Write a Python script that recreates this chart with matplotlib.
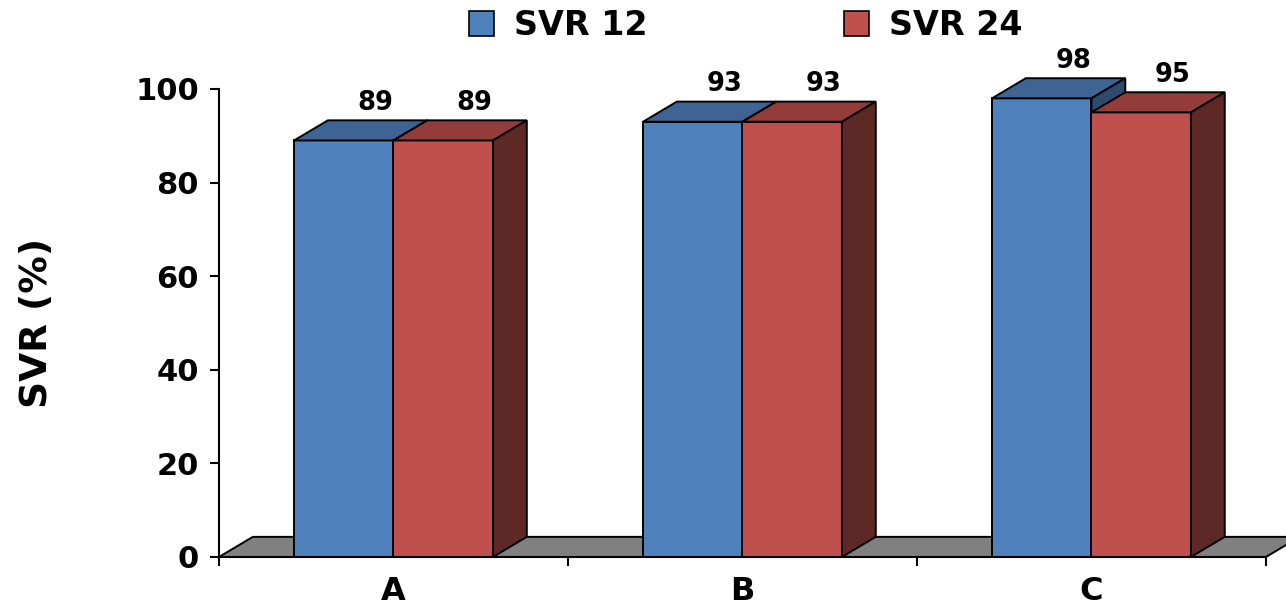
import matplotlib
matplotlib.use("Agg")
import matplotlib.pyplot as plt
from matplotlib.patches import Polygon, Patch

plt.rcParams['font.family'] = ['DejaVu Sans']
plt.rcParams['font.weight'] = 'bold'

groups = ['A', 'B', 'C']
series = ['SVR 12', 'SVR 24']
values = {
    'SVR 12': [89, 93, 98],
    'SVR 24': [89, 93, 95],
}
yticks = [0, 20, 40, 60, 80, 100]

front = {'SVR 12': '#4F81BD', 'SVR 24': '#C0504D'}
top = {'SVR 12': '#3D6493', 'SVR 24': '#943C3A'}
side = {'SVR 12': '#2E4A6D', 'SVR 24': '#5E2826'}

width = 0.285
dx, dy = 0.097, 4.3   # depth offset in data units
lw = 1.4

fig = plt.figure(figsize=(12.86, 6.12), dpi=100)
ax = fig.add_axes([0.1703, 0.0899, 0.8141, 0.7647])
ax.set_xlim(-0.5, 2.5)
ax.set_ylim(0, 100)

# grey floor
floor = Polygon([(-0.5, 0), (2.5, 0), (2.5 + dx, dy), (-0.5 + dx, dy)],
                closed=True, facecolor='#808080', edgecolor='black',
                linewidth=lw, zorder=1, clip_on=False)
ax.add_patch(floor)

z = 2
for i, g in enumerate(groups):
    for j, s in enumerate(series):
        v = values[s][i]
        x0 = i - width if j == 0 else i
        x1 = x0 + width
        ax.bar(x0, v, width=width, align='edge', color=front[s],
               edgecolor='black', linewidth=lw, zorder=z)
        ax.add_patch(Polygon([(x0, v), (x1, v), (x1 + dx, v + dy), (x0 + dx, v + dy)],
                             closed=True, facecolor=top[s], edgecolor='black',
                             linewidth=lw, zorder=z + 1, clip_on=False))
        ax.add_patch(Polygon([(x1, 0), (x1 + dx, dy), (x1 + dx, v + dy), (x1, v)],
                             closed=True, facecolor=side[s], edgecolor='black',
                             linewidth=lw, zorder=z + 2, clip_on=False))
        ax.text(x0 + width / 2 + 0.09, v + dy + 3.7, str(v), ha='center', va='center',
                fontsize=18.5, fontweight='bold', zorder=20)
        z += 3

for sp in ['top', 'right']:
    ax.spines[sp].set_visible(False)
ax.spines['left'].set_linewidth(1.5)
ax.spines['bottom'].set_linewidth(1.5)
ax.spines['left'].set_zorder(30)
ax.spines['bottom'].set_zorder(30)

ax.set_yticks(yticks)
ax.tick_params(axis='y', labelsize=22, length=6.5, width=1.5, pad=8)
ax.set_xticks(range(len(groups)))
ax.set_xticklabels(groups)
ax.set_xticks([-0.5, 0.5, 1.5, 2.5], minor=True)
ax.tick_params(axis='x', which='major', length=0, labelsize=23, pad=14)
ax.tick_params(axis='x', which='minor', length=6.5, width=1.5)
for lab in ax.get_xticklabels() + ax.get_yticklabels():
    lab.set_fontweight('bold')

ax.set_ylabel('SVR (%)', fontsize=27, fontweight='bold', labelpad=58)

handles = [Patch(facecolor=front[s], edgecolor='black', linewidth=1.2, label=s) for s in series]
fig.legend(handles=handles, loc='center', bbox_to_anchor=(0.58, 0.958), ncol=2,
           frameon=False, handlelength=0.75, handleheight=0.75,
           handletextpad=0.6, columnspacing=5.9, prop={'weight': 'bold', 'size': 24})

fig.savefig('out.png', dpi=100)
